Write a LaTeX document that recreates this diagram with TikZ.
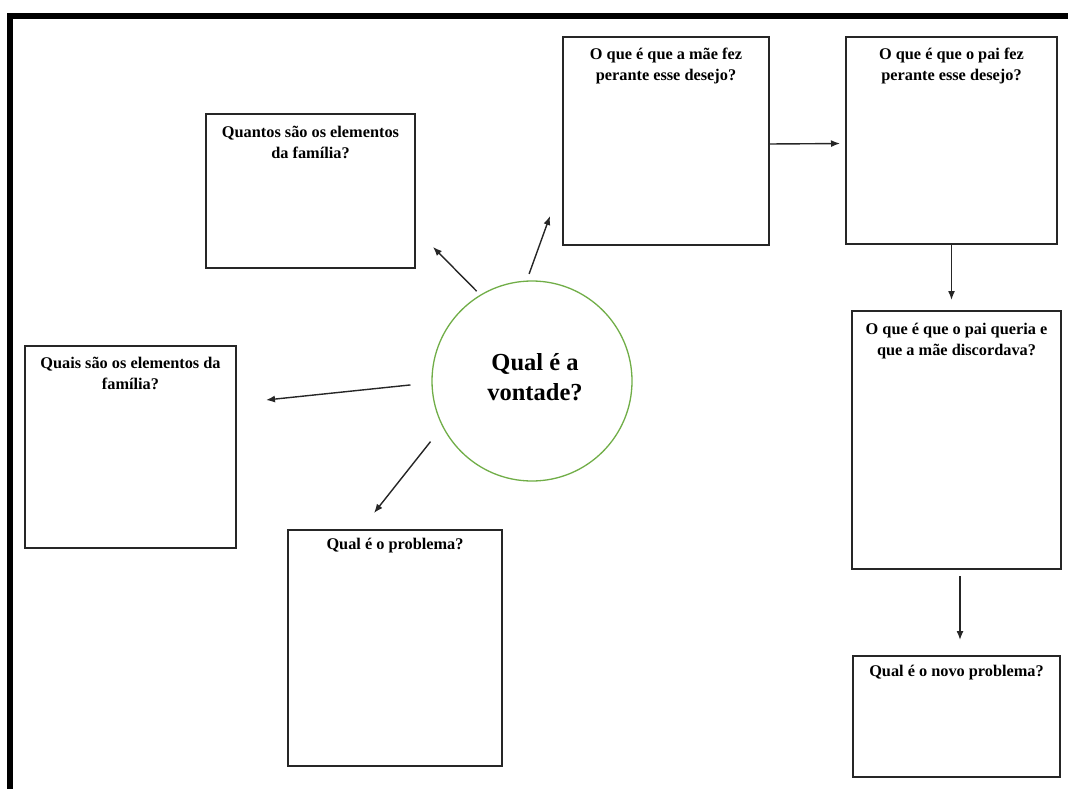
\documentclass[tikz,border=0pt]{standalone}
\usepackage{fontspec}
\setmainfont{Liberation Serif}
\usetikzlibrary{calc,arrows.meta}
\definecolor{circgreen}{HTML}{70AD47}
\begin{document}
\begin{tikzpicture}[x=1pt,y=-1pt,
  box/.style={draw=black!85, line width=1.2pt, inner sep=0pt, outer sep=0pt, anchor=north west},
  qtext/.style={font=\bfseries\fontsize{16.3}{21}\selectfont, align=center, anchor=north, inner sep=0pt},
  arr/.style={draw=black!85, line width=1.4pt, -{Latex[length=9pt,width=7pt]}},
]
\useasboundingbox (0,0) rectangle (1068,789);
\draw[line width=6pt] (10,789) -- (10,16) -- (1068,16);

% boxes
\node[box, minimum width=209pt, minimum height=154pt] (quantos) at (206,114) {};
\node[box, minimum width=211pt, minimum height=202pt] (quais) at (25,346) {};
\node[box, minimum width=214pt, minimum height=236pt] (problema) at (288,530) {};
\node[box, minimum width=206pt, minimum height=208pt] (mae) at (563,37) {};
\node[box, minimum width=211pt, minimum height=207pt] (paifez) at (846,37) {};
\node[box, minimum width=209pt, minimum height=258pt] (paiqueria) at (852,311) {};
\node[box, minimum width=207pt, minimum height=121pt] (novo) at (853,656) {};

% texts
\node[qtext] (tquantos) at ($(quantos.north)+(0,12)$) {Quantos são os elementos\\da família?};
\node[qtext] (tquais) at ($(quais.north)+(0,11)$) {Quais são os elementos da\\família?};
\node[qtext] (tproblema) at ($(problema.north)+(0,8)$) {Qual é o problema?};
\node[qtext] (tmae) at ($(mae.north)+(0,11)$) {O que é que a mãe fez\\perante esse desejo?};
\node[qtext] (tpaifez) at ($(paifez.north)+(0,11)$) {O que é que o pai fez\\perante esse desejo?};
\node[qtext] (tpaiqueria) at ($(paiqueria.north)+(0,12)$) {O que é que o pai queria e\\que a mãe discordava?};
\node[qtext] (tnovo) at ($(novo.north)+(0,9)$) {Qual é o novo problema?};

% circle
\node[circle, draw=circgreen, line width=1.3pt, minimum size=200pt, inner sep=0pt] (vontade) at (532,381) {};
\node[font=\bfseries\fontsize{24.5}{30}\selectfont, align=center, inner sep=0pt] (tvontade) at (535,377) {Qual é a\\vontade?};

% arrows
\coordinate (e1) at ($(quantos.south east)+(18,-21)$);
\coordinate (e2) at ($(mae.south west)+(-13,-29)$);
\coordinate (e3) at ($(quais.north east)+(30,54)$);
\coordinate (e4) at ($(problema.north)+(-21,-17)$);
\draw[arr, shorten <=5pt] (vontade.121) -- (e1);
\draw[arr, shorten <=7pt] (vontade.93) -- (e2);
\draw[arr, shorten <=21pt] (vontade.181) -- (e3);
\draw[arr, shorten <=19pt] (vontade.207) -- (e4);
\draw[arr, shorten >=6pt] ($(mae.east)+(0,3)$) -- ($(paifez.west)+(0,3)$);
\draw[arr, shorten >=11pt] (paifez.south) -- (paifez.south |- paiqueria.north);
\draw[arr, shorten <=7pt, shorten >=16pt] ([xshift=3.5pt]paiqueria.south) -- ([xshift=3.5pt]novo.north);
\end{tikzpicture}
\end{document}
